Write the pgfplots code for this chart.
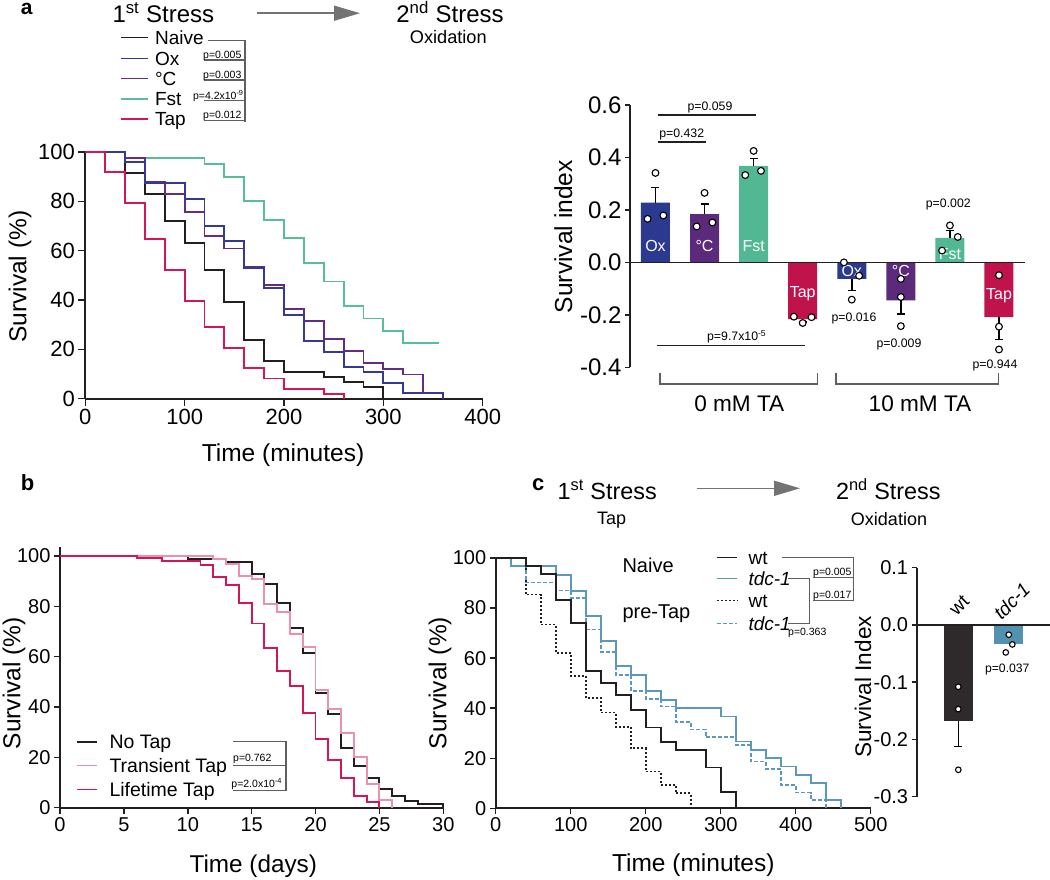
\documentclass[border=0pt]{standalone}
\usepackage{fontspec}
\setmainfont{Liberation Sans}
\usepackage{pgfplots}
\pgfplotsset{compat=1.18}
\usetikzlibrary{arrows.meta}
\newcommand{\fs}[1]{\fontsize{#1}{#1}\selectfont}
\definecolor{cBlk}{RGB}{35,31,32}
\definecolor{cOx}{RGB}{52,56,150}
\definecolor{cOxBar}{RGB}{43,57,144}
\definecolor{cC}{RGB}{100,45,130}
\definecolor{cCBar}{RGB}{92,42,122}
\definecolor{cF}{RGB}{88,190,150}
\definecolor{cFBar}{RGB}{82,184,148}
\definecolor{cT}{RGB}{212,22,82}
\definecolor{cTBar}{RGB}{192,19,75}
\definecolor{cPink}{RGB}{232,146,172}
\definecolor{cTdc}{RGB}{90,152,188}
\definecolor{cTdcBar}{RGB}{82,145,176}
\definecolor{cGray}{RGB}{95,95,95}
\definecolor{cArrow}{RGB}{115,115,115}
\pgfplotsset{
 survax/.style={scale only axis, anchor=south west, clip=false,
   axis lines=left, axis line style={-, line width=1.8pt, draw=cBlk},
   tick align=outside, major tick length=7pt, minor tick num=0,
   tick style={line width=1.5pt, draw=cBlk},
   ymin=0, ymax=100, ytick={0,20,40,60,80,100}, yticklabels={0,20,40,60,80,100}},
 barax/.style={scale only axis, anchor=south west, clip=false,
   axis y line=left, axis x line=none, axis line style={-, line width=1.8pt, draw=cBlk},
   tick align=outside, minor tick num=0, xtick=\empty,
   tick style={line width=1.5pt, draw=cBlk}},
 km/.style={const plot, line width=1.9pt},
 pts/.style={only marks, mark=*, mark options={fill=white, draw=black, line width=1.1pt}},
 eb/.style={draw=none, error bars/y explicit,
   error bars/error bar style={draw=black, line width=1.5pt},
   error bars/error mark options={rotate=90, draw=black, line width=1.5pt, mark size=4pt}},
}
\begin{document}
\begin{tikzpicture}
\path[use as bounding box] (0,0) rectangle (1050pt,-879pt);

% ---------- panel a: survival
\begin{axis}[survax, at={(85.3pt,-398.7pt)}, width=397.4pt, height=246.7pt,
  xmin=0, xmax=400, xtick={0,100,200,300,400}, xticklabels={0,100,200,300,400},
  tick label style={font=\fs{22}}]
\addplot[km, cF] coordinates {(0,100)(40,97.5)(120,95)(140,90)(160,80)(180,72.4)(200,65)(220,55)(240,47.5)(260,37.5)(280,32.5)(300,27.5)(320,22.5)(356,22.5)};
\addplot[km, cBlk] coordinates {(0,100)(40,91.4)(60,82.8)(80,72)(100,63)(120,52.2)(140,39.1)(160,23.9)(180,15.3)(200,10.8)(240,8.8)(260,6.7)(280,4.6)(300,0)};
\addplot[km, cC] coordinates {(0,100)(40,97.5)(60,87.8)(80,82.8)(100,75.7)(120,65.9)(140,60.9)(160,53.5)(180,46.1)(200,36.5)(220,31.6)(240,24.3)(260,19.5)(280,14.6)(300,12.2)(320,9.8)(340,2.3)(360,0)};
\addplot[km, cOx] coordinates {(0,100)(40,95.8)(60,87.5)(100,81)(120,70)(140,64)(160,53)(180,44.9)(200,34.1)(220,23.4)(240,19.1)(260,12.7)(280,10.7)(300,6.3)(320,2.2)(360,0)};
\addplot[km, cT] coordinates {(0,100)(20,91.8)(40,79.2)(60,64.6)(80,52)(100,39.6)(120,29.2)(140,20.7)(160,12.4)(180,8.2)(200,4.1)(240,2)(260,0)};
\end{axis}

% ---------- panel a: bars
\begin{axis}[barax, at={(630pt,-367.3pt)}, width=395pt, height=262.3pt,
  xmin=0.481, xmax=8.53, ymin=-0.4, ymax=0.6,
  ytick={-0.4,-0.2,0,0.2,0.4,0.6}, yticklabels={-0.4,-0.2,0.0,0.2,0.4,0.6},
  major tick length=5pt, tick label style={font=\fs{24}}]
\addplot[ybar, bar width=29pt, bar shift=0pt, fill=cOxBar, draw=none] coordinates {(1,0.228)(5,-0.063)};
\addplot[ybar, bar width=29pt, bar shift=0pt, fill=cCBar, draw=none] coordinates {(2,0.184)(6,-0.145)};
\addplot[ybar, bar width=29pt, bar shift=0pt, fill=cFBar, draw=none] coordinates {(3,0.368)(7,0.093)};
\addplot[ybar, bar width=29pt, bar shift=0pt, fill=cTBar, draw=none] coordinates {(4,-0.216)(8,-0.209)};
\addplot[cBlk, line width=1.6pt] coordinates {(0.481,0)(8.53,0)};
\addplot[eb, error bars/y dir=plus]
  coordinates {(1,0.228) +- (0,0.057) (2,0.184) +- (0,0.039) (3,0.368) +- (0,0.028) (7,0.093) +- (0,0.029)};
\addplot[eb, error bars/y dir=minus]
  coordinates {(4,-0.216) +- (0,0.012) (5,-0.063) +- (0,0.044) (6,-0.145) +- (0,0.051) (8,-0.209) +- (0,0.085)};
\node[white, font=\fs{16}] at (axis cs:1,0.061) {Ox};
\node[white, font=\fs{16}] at (axis cs:2,0.061) {°C};
\node[white, font=\fs{16}] at (axis cs:3,0.061) {Fst};
\node[white, font=\fs{16}] at (axis cs:4,-0.12) {Tap};
\node[white, font=\fs{16}] at (axis cs:5,-0.034) {Ox};
\node[white, font=\fs{16}] at (axis cs:6,-0.034) {°C};
\node[white, font=\fs{16}] at (axis cs:7,0.033) {Fst};
\node[white, font=\fs{16}] at (axis cs:8,-0.128) {Tap};
\addplot[pts, mark size=3.4pt] coordinates {
 (1,0.341)(0.84,0.166)(1.16,0.179)
 (2,0.265)(1.84,0.137)(2.16,0.152)
 (3,0.425)(2.83,0.333)(3.15,0.349)
 (3.82,-0.207)(4,-0.231)(4.18,-0.209)
 (4.84,0.0)(5.15,-0.051)(5,-0.142)
 (6,-0.063)(6,-0.132)(6,-0.243)
 (7,0.141)(7.16,0.097)(6.84,0.045)
 (8,-0.049)(8,-0.245)(8,-0.332)};
\end{axis}

% ---------- panel b
\begin{axis}[survax, at={(60pt,-807.7pt)}, width=383.3pt, height=260.4pt, ymax=103.45,
  xmin=0, xmax=30, xtick={0,5,10,15,20,25,30}, xticklabels={0,5,10,15,20,25,30},
  major tick length=6pt, tick label style={font=\fs{20}}]
\addplot[km, cBlk] coordinates {(0,100)(10,98.7)(13,97.5)(15,92.8)(16,88.7)(17,81.5)(18,71.5)(19,61.3)(20,45.7)(21,37.1)(22,23.8)(23,16.4)(24,11.8)(25,7.4)(26,4.5)(27,2.8)(28,1.3)(30,0)};
\addplot[km, cPink] coordinates {(0,100)(12,98.7)(13,96.8)(14,92.1)(15,90.7)(16,81.1)(17,77.9)(18,68.9)(19,64.0)(20,46.8)(21,39.1)(22,29.6)(23,20.3)(24,9.3)(25,3.0)(26,0)};
\addplot[km, cT] coordinates {(0,100)(6,99.2)(8,97.9)(11,96.4)(12,91.8)(13,88.3)(14,81.5)(15,73.2)(16,63.6)(17,54.3)(18,48.3)(19,37.7)(20,27.2)(21,19.0)(22,11.7)(23,4.8)(24,2.3)(25,0)};
\end{axis}

% ---------- panel c: survival
\begin{axis}[survax, at={(495.7pt,-808.3pt)}, width=375pt, height=250.3pt,
  xmin=0, xmax=500, xtick={0,100,200,300,400,500}, xticklabels={0,100,200,300,400,500},
  major tick length=6pt, tick label style={font=\fs{20}}]
\addplot[km, cBlk, line width=1.6pt, dash pattern=on 2pt off 2pt] coordinates {(0,100)(20,96.7)(40,85.4)(60,73.4)(80,62.0)(100,52.9)(120,44.0)(140,38.2)(160,32.5)(180,24.0)(200,14.7)(220,9.4)(240,6.0)(260,0)};
\addplot[km, cTdc, line width=1.6pt, dash pattern=on 4pt off 2pt] coordinates {(0,100)(20,96.7)(40,90.2)(80,87)(100,84)(120,71.5)(140,62.5)(160,53.2)(180,46.8)(200,43.6)(220,40.6)(240,34.5)(260,31.5)(280,28.4)(320,25.4)(340,18.7)(360,15.7)(380,9.4)(400,6.3)(420,3.3)(440,0)};
\addplot[km, cTdc] coordinates {(0,100)(20,96.7)(80,93.3)(100,86.7)(120,76.7)(140,66.7)(160,56.7)(180,53.3)(200,46.7)(220,43.3)(240,40)(300,36.7)(320,26.7)(340,23.3)(360,20)(380,16.7)(400,13.3)(420,10)(440,3.3)(460,0)};
\addplot[km, cBlk] coordinates {(0,100)(40,96.7)(60,93.5)(80,83.4)(100,74.0)(120,55.0)(140,50.0)(160,45.2)(180,39.2)(200,32.3)(220,26.4)(240,23.2)(280,16.3)(300,6.4)(320,0)};
\end{axis}

% ---------- panel c: bars
\begin{axis}[barax, at={(917.3pt,-796.7pt)}, width=132.7pt, height=229pt,
  xmin=0.188, xmax=2.816, ymin=-0.3, ymax=0.1,
  ytick={-0.3,-0.2,-0.1,0,0.1}, yticklabels={-0.3,-0.2,-0.1,0.0,0.1},
  major tick length=5.7pt, tick label style={font=\fs{20}}]
\addplot[ybar, bar width=29pt, bar shift=0pt, fill=cBlk!95!white, draw=none] coordinates {(1,-0.168)};
\addplot[ybar, bar width=29pt, bar shift=0pt, fill=cTdcBar, draw=none] coordinates {(2,-0.033)};
\addplot[cBlk, line width=1.5pt] coordinates {(0.188,0)(2.816,0)};
\addplot[eb, error bars/y dir=minus] coordinates {(1,-0.168) +- (0,0.044)};
\addplot[pts, mark size=2.8pt] coordinates {(1,-0.108)(1,-0.147)(1,-0.253)(2,-0.017)(2.07,-0.034)(1.94,-0.048)};
\end{axis}

% ---------- annotations
\begin{scope}[x=1pt,y=-1pt]
% panel a header
\node[anchor=base west, inner sep=0pt, font=\bfseries\fs{21}] at (20.7,14.5) {a};
\node[anchor=base, inner sep=0pt, font=\fs{24}] at (163.3,22.5) {1\textsuperscript{st} Stress};
\draw[cArrow, line width=1.6pt, -{Triangle[length=26pt, width=15pt]}] (256.7,13.2) -- (360,13.2);
\node[anchor=base, inner sep=0pt, font=\fs{24}] at (450,22.5) {2\textsuperscript{nd} Stress};
\node[anchor=base, font=\fs{18.2}] at (448.3,43.5) {Oxidation};
% panel a legend
\draw[cBlk, line width=1.6pt] (120.7,37.3) -- (148.3,37.3);
\draw[cOx, line width=1.6pt] (120.7,58.3) -- (148.3,58.3);
\draw[cC, line width=1.6pt] (120.7,78.3) -- (148.3,78.3);
\draw[cF, line width=1.6pt] (120.7,99) -- (148.3,99);
\draw[cT, line width=1.6pt] (120.7,119) -- (148.3,119);
\node[anchor=base west, font=\fs{19}] at (151.5,44.1) {Naive};
\node[anchor=base west, font=\fs{19}] at (151.5,65.1) {Ox};
\node[anchor=base west, font=\fs{19}] at (151.5,85.1) {°C};
\node[anchor=base west, font=\fs{19}] at (151.5,105.8) {Fst};
\node[anchor=base west, font=\fs{19}] at (151.5,125.8) {Tap};
\draw[cGray, line width=1.1pt] (208.3,40.7) -- (245,40.7) -- (245,121.7);
\foreach \yy in {60,80,100.7,120.7} \draw[cGray, line width=1.1pt] (204,\yy) -- (245,\yy);
\node[anchor=base, inner sep=0pt, font=\fs{10.5}] at (222.3,58.1) {p=0.005};
\node[anchor=base, inner sep=0pt, font=\fs{10.5}] at (222.3,78.8) {p=0.003};
\node[anchor=base, inner sep=0pt, font=\fs{10.5}] at (218.3,99.5) {p=4.2x10\textsuperscript{-9}};
\node[anchor=base, inner sep=0pt, font=\fs{10.5}] at (222.3,118.8) {p=0.012};
% panel a survival labels
\node[rotate=90, font=\fs{24.5}] at (20,276.7) {Survival (\%)};
\node[font=\fs{24.5}] at (283,455) {Time (minutes)};
% panel a bar labels
\node[rotate=90, font=\fs{24.6}] at (563.3,236.7) {Survival index};
\draw[cBlk, line width=1.2pt] (657.7,115) -- (756,115);
\draw[cBlk, line width=1.2pt] (657.7,142) -- (706,142);
\draw[cBlk, line width=1.2pt] (656.7,345.7) -- (805,345.7);
\node[anchor=base, inner sep=0pt, font=\fs{12.3}] at (710,110.4) {p=0.059};
\node[anchor=base, inner sep=0pt, font=\fs{12.3}] at (681.7,137.7) {p=0.432};
\node[anchor=base, inner sep=0pt, font=\fs{12.3}] at (736.7,340.4) {p=9.7x10\textsuperscript{-5}};
\node[anchor=base, inner sep=0pt, font=\fs{12.3}] at (854,321.7) {p=0.016};
\node[anchor=base, inner sep=0pt, font=\fs{12.3}] at (899,347.7) {p=0.009};
\node[anchor=base, inner sep=0pt, font=\fs{12.3}] at (948.3,207.7) {p=0.002};
\node[anchor=base, inner sep=0pt, font=\fs{12.3}] at (995,368.1) {p=0.944};
\draw[cGray, line width=1.2pt] (660,372.7) -- (660,384) -- (817.7,384) -- (817.7,372.7);
\draw[cGray, line width=1.2pt] (836,372.7) -- (836,384) -- (998.3,384) -- (998.3,372.7);
\node[font=\fs{22.6}] at (739.3,403.3) {0 mM TA};
\node[font=\fs{22.6}] at (920,403.3) {10 mM TA};
% panel b
\node[anchor=base west, inner sep=0pt, font=\bfseries\fs{22}] at (20.7,490) {b};
\node[rotate=90, font=\fs{24.5}] at (14,683.3) {Survival (\%)};
\node[font=\fs{24.3}] at (253.3,866.7) {Time (days)};
\draw[cBlk, line width=1.6pt] (77,741.7) -- (97,741.7);
\draw[cPink, line width=1.6pt] (77,765.3) -- (97,765.3);
\draw[cT, line width=1.6pt] (77,789.3) -- (97,789.3);
\node[anchor=base west, font=\fs{19.5}] at (106,748.7) {No Tap};
\node[anchor=base west, font=\fs{19.5}] at (106,772.3) {Transient Tap};
\node[anchor=base west, font=\fs{19.5}] at (106,796.3) {Lifetime Tap};
\draw[cGray, line width=1.1pt] (233,741.7) -- (286,741.7) -- (286,790.7) -- (233,790.7);
\draw[cGray, line width=1.1pt] (233,765.3) -- (286,765.3);
\node[anchor=base, inner sep=0pt, font=\fs{10.5}] at (252.3,761.1) {p=0.762};
\node[anchor=base, inner sep=0pt, font=\fs{10.5}] at (256.7,787.8) {p=2.0x10\textsuperscript{-4}};
% panel c header
\node[anchor=base west, inner sep=0pt, font=\bfseries\fs{22}] at (532,490) {c};
\node[anchor=base, inner sep=0pt, font=\fs{23.4}] at (607.2,499.3) {1\textsuperscript{st} Stress};
\node[anchor=base, inner sep=0pt, font=\fs{18}] at (611.7,524) {Tap};
\draw[cArrow, line width=1.6pt, -{Triangle[length=26pt, width=15pt]}] (697,488.3) -- (800,488.3);
\node[anchor=base, inner sep=0pt, font=\fs{23.4}] at (888.3,499.3) {2\textsuperscript{nd} Stress};
\node[anchor=base, inner sep=0pt, font=\fs{18}] at (889,525) {Oxidation};
% panel c legend
\node[anchor=base west, font=\fs{20}] at (619,572.2) {Naive};
\node[anchor=base west, font=\fs{20}] at (619,618.9) {pre-Tap};
\draw[cBlk, line width=1.6pt] (716.7,557.3) -- (737.3,557.3);
\draw[cTdc, line width=1.6pt] (716.7,578.3) -- (737.3,578.3);
\draw[cBlk, line width=1.5pt, dash pattern=on 2pt off 2pt] (716.7,600.7) -- (737.3,600.7);
\draw[cTdc, line width=1.5pt, dash pattern=on 4pt off 2pt] (716.7,623.3) -- (737.3,623.3);
\node[anchor=base west, font=\fs{19}] at (745,564.1) {wt};
\node[anchor=base west, font=\fs{19}] at (745,585.1) {\itshape tdc-1};
\node[anchor=base west, font=\fs{19}] at (745,607.5) {wt};
\node[anchor=base west, font=\fs{19}] at (745,630.1) {\itshape tdc-1};
\draw[cGray, line width=1.1pt] (781.7,557.3) -- (853.3,557.3) -- (853.3,600.7) -- (813.3,600.7);
\draw[cGray, line width=1.1pt] (813.3,577.3) -- (853.3,577.3);
\draw[cGray, line width=1.1pt] (788.3,578.3) -- (809.3,578.3) -- (809.3,623.3) -- (788.3,623.3);
\node[anchor=base, inner sep=0pt, font=\fs{10.5}] at (832.3,575.6) {p=0.005};
\node[anchor=base, inner sep=0pt, font=\fs{10.5}] at (832.3,598.8) {p=0.017};
\node[anchor=base, inner sep=0pt, font=\fs{10.5}] at (807.3,635) {p=0.363};
\node[rotate=90, font=\fs{24.5}] at (440,683) {Survival (\%)};
\node[font=\fs{24.5}] at (693.3,865) {Time (minutes)};
% panel c bars labels
\node[rotate=90, font=\fs{22.6}] at (863,687) {Survival Index};
\node[rotate=45, inner sep=0pt, font=\fs{19}] at (959.3,605) {wt};
\node[rotate=45, inner sep=0pt, font=\itshape\fs{19}] at (1011.7,601) {tdc-1};
\node[anchor=base, inner sep=0pt, font=\fs{12.2}] at (1007.3,672.1) {p=0.037};
\end{scope}
\end{tikzpicture}
\end{document}
